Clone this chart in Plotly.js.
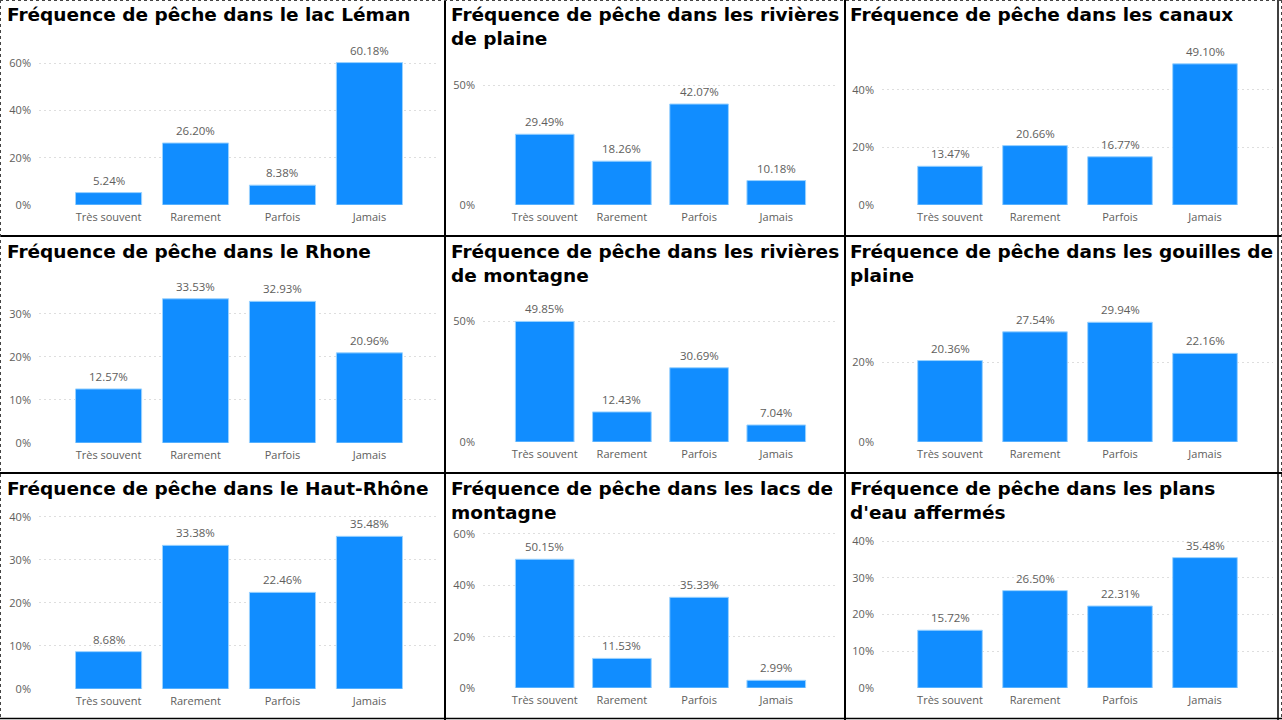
<!DOCTYPE html>
<html>
<head>
<meta charset="utf-8">
<script src="https://cdn.plot.ly/plotly-3.0.1.min.js"></script>
<style>
  html, body { margin: 0; padding: 0; background: #ffffff; }
  #chart { width: 1282px; height: 720px; }
</style>
</head>
<body>
<div id="chart"></div>
<script>
// ---------- DATA ----------
const categories = ["Très souvent", "Rarement", "Parfois", "Jamais"];

const titles = [
  "Fréquence de pêche dans le lac Léman",
  "Fréquence de pêche dans les rivières<br>de plaine",
  "Fréquence de pêche dans les canaux",
  "Fréquence de pêche dans le Rhone",
  "Fréquence de pêche dans les rivières<br>de montagne",
  "Fréquence de pêche dans les gouilles de<br>plaine",
  "Fréquence de pêche dans le Haut-Rhône",
  "Fréquence de pêche dans les lacs de<br>montagne",
  "Fréquence de pêche dans les plans<br>d'eau affermés"
];

const lacLeman          = [5.24, 26.20, 8.38, 60.18];
const rivieresPlaine    = [29.49, 18.26, 42.07, 10.18];
const canaux            = [13.47, 20.66, 16.77, 49.10];
const rhone             = [12.57, 33.53, 32.93, 20.96];
const rivieresMontagne  = [49.85, 12.43, 30.69, 7.04];
const gouillesPlaine    = [20.36, 27.54, 29.94, 22.16];
const hautRhone         = [8.68, 33.38, 22.46, 35.48];
const lacsMontagne      = [50.15, 11.53, 35.33, 2.99];
const plansEauAffermes  = [15.72, 26.50, 22.31, 35.48];

const series = [lacLeman, rivieresPlaine, canaux, rhone, rivieresMontagne,
                gouillesPlaine, hautRhone, lacsMontagne, plansEauAffermes];

// ---------- GEOMETRY (pixels) ----------
const W = 1282, H = 720;
const colX = [[39, 439], [483, 838], [882, 1273]];
const titleX = [5, 449, 848];
const titleY = [2, 239, 476];
// per panel: [topPx, zeroPx, ymax, dtick]
const panelY = [
  [50, 205, 65.5, 20],
  [70, 205, 56.25, 50],
  [55, 205, 52.17, 20],
  [280, 443, 37.9, 10],
  [300, 442, 58.7, 50],
  [302, 442, 35.0, 20],
  [510, 689, 41.6, 10],
  [525, 688, 63.5, 20],
  [530, 688, 43.0, 10]
];

const px = v => v / W;
const py = v => 1 - v / H;

const tickColor = "#605E5C";
const traces = [];
const annotations = [];
const layout = {
  width: W, height: H,
  margin: {l: 0, r: 0, t: 0, b: 0},
  paper_bgcolor: "#ffffff",
  plot_bgcolor: "rgba(0,0,0,0)",
  showlegend: false,
  bargap: 0.24,
  font: {family: "Open Sans, sans-serif", color: tickColor, size: 11}
};

for (let i = 0; i < 9; i++) {
  const col = i % 3;
  const n = i + 1;
  const xa = "xaxis" + (n === 1 ? "" : n);
  const ya = "yaxis" + (n === 1 ? "" : n);
  const xr = "x" + (n === 1 ? "" : n);
  const yr = "y" + (n === 1 ? "" : n);
  const [topPx, zeroPx, ymax, dtick] = panelY[i];

  traces.push({
    type: "bar",
    x: categories,
    y: series[i],
    xaxis: xr, yaxis: yr,
    marker: {color: "#118DFF", line: {color: "#9ad2ff", width: 1}},
    hoverinfo: "skip"
  });

  layout[xa] = {
    domain: [px(colX[col][0]), px(colX[col][1])],
    anchor: yr,
    type: "category",
    range: [-0.8, 3.8],
    showgrid: false, zeroline: false, showline: false,
    ticks: "",
    tickfont: {size: 11, color: tickColor, family: "Open Sans, sans-serif"},
    ticklabelstandoff: 4,
    fixedrange: true
  };
  layout[ya] = {
    domain: [py(zeroPx), py(topPx)],
    anchor: xr,
    range: [0, ymax],
    dtick: dtick, tick0: 0,
    ticksuffix: "%",
    showgrid: true, gridcolor: "#dedede", griddash: "2px,3px", gridwidth: 1,
    zeroline: false, showline: false,
    ticks: "",
    tickfont: {size: 11, color: tickColor, family: "Open Sans, sans-serif"},
    ticklabelstandoff: 7,
    fixedrange: true
  };

  series[i].forEach((v, k) => {
    annotations.push({
      xref: xr, yref: yr, x: categories[k], y: v,
      text: v.toFixed(2) + "%",
      showarrow: false, yanchor: "bottom", yshift: 3,
      font: {size: 11.5, color: tickColor, family: "Open Sans, sans-serif"}
    });
  });

  annotations.push({
    xref: "paper", yref: "paper",
    x: px(titleX[col]), y: py(titleY[Math.floor(i / 3)]),
    xanchor: "left", yanchor: "top", align: "left",
    text: titles[i], showarrow: false,
    font: {family: "DejaVu Sans, Verdana, sans-serif", size: 18.5, color: "#000000", weight: 700}
  });
}

layout.annotations = annotations;

const line = (x0, y0, x1, y1, w, dash, color) => ({
  type: "line", xref: "paper", yref: "paper",
  x0: px(x0), y0: py(y0), x1: px(x1), y1: py(y1),
  line: {color: color || "#000000", width: w, dash: dash || "solid"}
});
layout.shapes = [
  line(445, 0, 445, 720, 2),
  line(845, 0, 845, 720, 2),
  line(0, 236, 1282, 236, 2),
  line(0, 473, 1282, 473, 2),
  line(1278, 0, 1278, 720, 1.5),
  line(0, 718.5, 1282, 718.5, 1.5),
  line(0.5, 0, 0.5, 720, 1, "dot", "#444444"),
  line(0, 0.5, 1282, 0.5, 1, "dot", "#444444"),
  line(1281.5, 0, 1281.5, 720, 1, "dot", "#444444")
];

Plotly.newPlot("chart", traces, layout, {staticPlot: true, displayModeBar: false});
</script>
</body>
</html>
